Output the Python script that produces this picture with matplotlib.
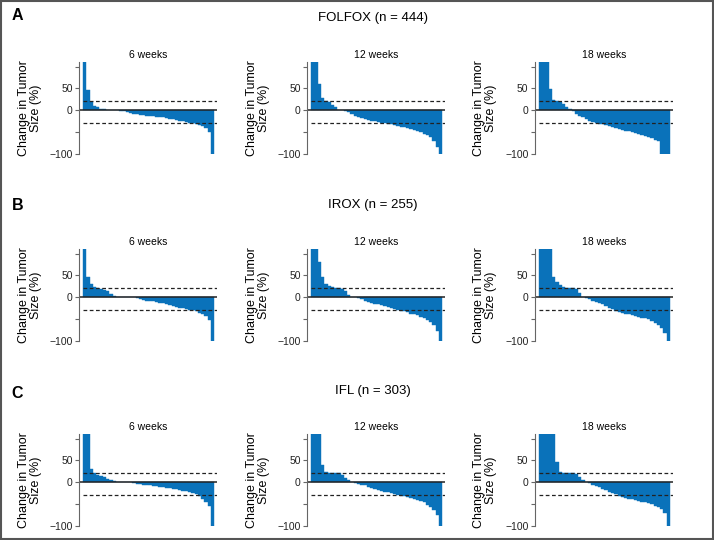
import matplotlib
matplotlib.use("Agg")
import matplotlib.pyplot as plt
from matplotlib.patches import Rectangle

plt.rcParams['font.family'] = ['Liberation Sans', 'DejaVu Sans']

groups = ["FOLFOX (n = 444)", "IROX (n = 255)", "IFL (n = 303)"]
letters = ["A", "B", "C"]
weeks = ["6 weeks", "12 weeks", "18 weeks"]

# sorted change in tumor size (%), sampled across each waterfall
folfox_6 = [150, 45, 18, 10, 6, 3, 2, 1, 0.5, 0, 0, -1, -2, -4, -6, -8, -9, -10.5, -11.5, -12.5,
            -13, -14, -15, -16, -17, -18, -19.5, -21, -22, -24, -26, -27, -29, -30, -32, -34, -37, -41, -50, -100]
folfox_12 = [150, 150, 60, 27, 21, 18, 12, 6, 1, 0, -1, -5, -9, -13, -16, -18, -20, -22, -24, -26,
             -27, -29, -30, -32, -33, -35, -36, -38, -40, -42, -44, -46, -48, -51, -54, -57, -62, -70, -85, -100]
folfox_18 = [150, 150, 150, 48, 24, 20, 19, 14, 7, 2, -2, -8, -13, -17, -20, -24, -27, -29, -31, -33,
             -35, -37, -39, -41, -43, -45, -47, -49, -51, -53, -55, -57, -59, -62, -65, -68, -72, -100, -100, -100]
irox_6 = [150, 45, 30, 23, 21, 19, 17, 13, 8, 3, 0.5, 0, 0, 0, 0, -0.5, -2, -4, -6, -8,
          -9, -10, -12, -13, -14.5, -16, -18, -20, -22, -24, -26, -27, -29, -30, -33, -36, -39, -44, -52, -100]
irox_12 = [150, 150, 80, 45, 31, 25, 23, 21, 20.5, 19, 13, 5, 1, 0, -2, -5, -8, -11, -13, -15,
           -17, -19, -21, -23, -25, -27, -29, -31, -33, -35, -38, -40, -42, -45, -48, -53, -58, -65, -78, -100]
irox_18 = [150, 150, 150, 150, 45, 34, 27, 24, 21, 20.5, 20.5, 19, 10, 1, -2, -5, -8, -11, -14, -17,
           -21, -25, -28, -31, -34, -37, -39, -40, -42, -44, -46, -47, -48, -50, -54, -59, -64, -71, -82, -100]
ifl_6 = [150, 110, 30, 20, 16, 13, 11, 8, 5, 2, 0.5, 0, 0, 0, -0.5, -2, -4, -5, -6, -7,
         -8, -9, -10, -11, -12, -13, -14, -15, -16.5, -18, -19.5, -21, -23, -25, -28, -33, -38, -45, -55, -100]
ifl_12 = [150, 150, 110, 40, 24, 21, 21, 20.5, 20, 16, 10, 4, 0, -2, -4, -6, -8, -11, -14, -16,
          -18, -20, -22, -24, -26, -27, -29, -31, -33, -35, -37, -39, -41, -44, -47, -52, -57, -64, -75, -100]
ifl_18 = [150, 150, 150, 150, 150, 45, 22, 20, 20, 20, 20, 19, 12, 5, -1, -3, -6, -9, -12, -16,
          -19, -22, -25, -28, -31, -34, -36, -38, -40, -41, -43, -45, -47, -49, -51, -54, -58, -63, -72, -100]

data = [[folfox_6, folfox_12, folfox_18],
        [irox_6, irox_12, irox_18],
        [ifl_6, ifl_12, ifl_18]]

blue = '#0a72ba'

fig = plt.figure(figsize=(7.14, 5.4), dpi=100)
fig.patches.append(Rectangle((0.001, 0.002), 0.997, 0.996, transform=fig.transFigure,
                             fill=False, edgecolor='#555555', linewidth=1.5))

lefts = [0.1106, 0.430, 0.749]
bottoms = [0.7148, 0.3685, 0.026]
row_title_y = [1 - 18 / 540, 1 - 205 / 540, 1 - 391 / 540]
letter_y = [1 - 15 / 540, 1 - 206 / 540, 1 - 393 / 540]

for r in range(3):
    fig.text(0.016, letter_y[r], letters[r], fontsize=11.5, fontweight='bold', va='center', ha='left')
    fig.text(0.522, row_title_y[r], groups[r], fontsize=9.5, ha='center', va='center',
             family=['Liberation Sans Narrow', 'Liberation Sans'], fontstretch='condensed')
    for c in range(3):
        vals = data[r][c]
        ax = fig.add_axes([lefts[c], bottoms[r], 0.1935, 0.170])
        x = list(range(len(vals)))
        ax.bar(x, vals, width=1.0, color=blue, edgecolor=blue, linewidth=0.3)
        ax.set_xlim(-1.75, len(vals) - 0.5 + 0.9)
        ax.set_ylim(-101, 110)
        ax.axhline(0, color='#222222', linewidth=1.1)
        ax.hlines([20, -30], -0.5, len(vals) - 0.5 + 0.9, colors='#222222',
                  linestyles=(0, (3, 2)), linewidth=0.9)
        for s in ['top', 'right', 'bottom']:
            ax.spines[s].set_visible(False)
        ax.spines['left'].set_color('#666666')
        ax.spines['left'].set_bounds(-100, 110)
        ax.set_xticks([])
        ax.set_yticks([100, 50, 0, -50, -100])
        ax.set_yticklabels(['', '50', '0', '', '\u2212100'])
        ax.tick_params(axis='y', length=3, width=0.8, color='#666666', labelsize=7.5,
                       labelcolor='#222222', pad=1.5)
        ax.set_ylabel('Change in Tumor\nSize (%)', fontsize=9, linespacing=1.0,
                      multialignment='center')
        ax.yaxis.set_label_coords(-0.27, 0.5)
        ax.set_title(weeks[c], fontsize=7.5, pad=3)

fig.savefig('out.png', dpi=100)
